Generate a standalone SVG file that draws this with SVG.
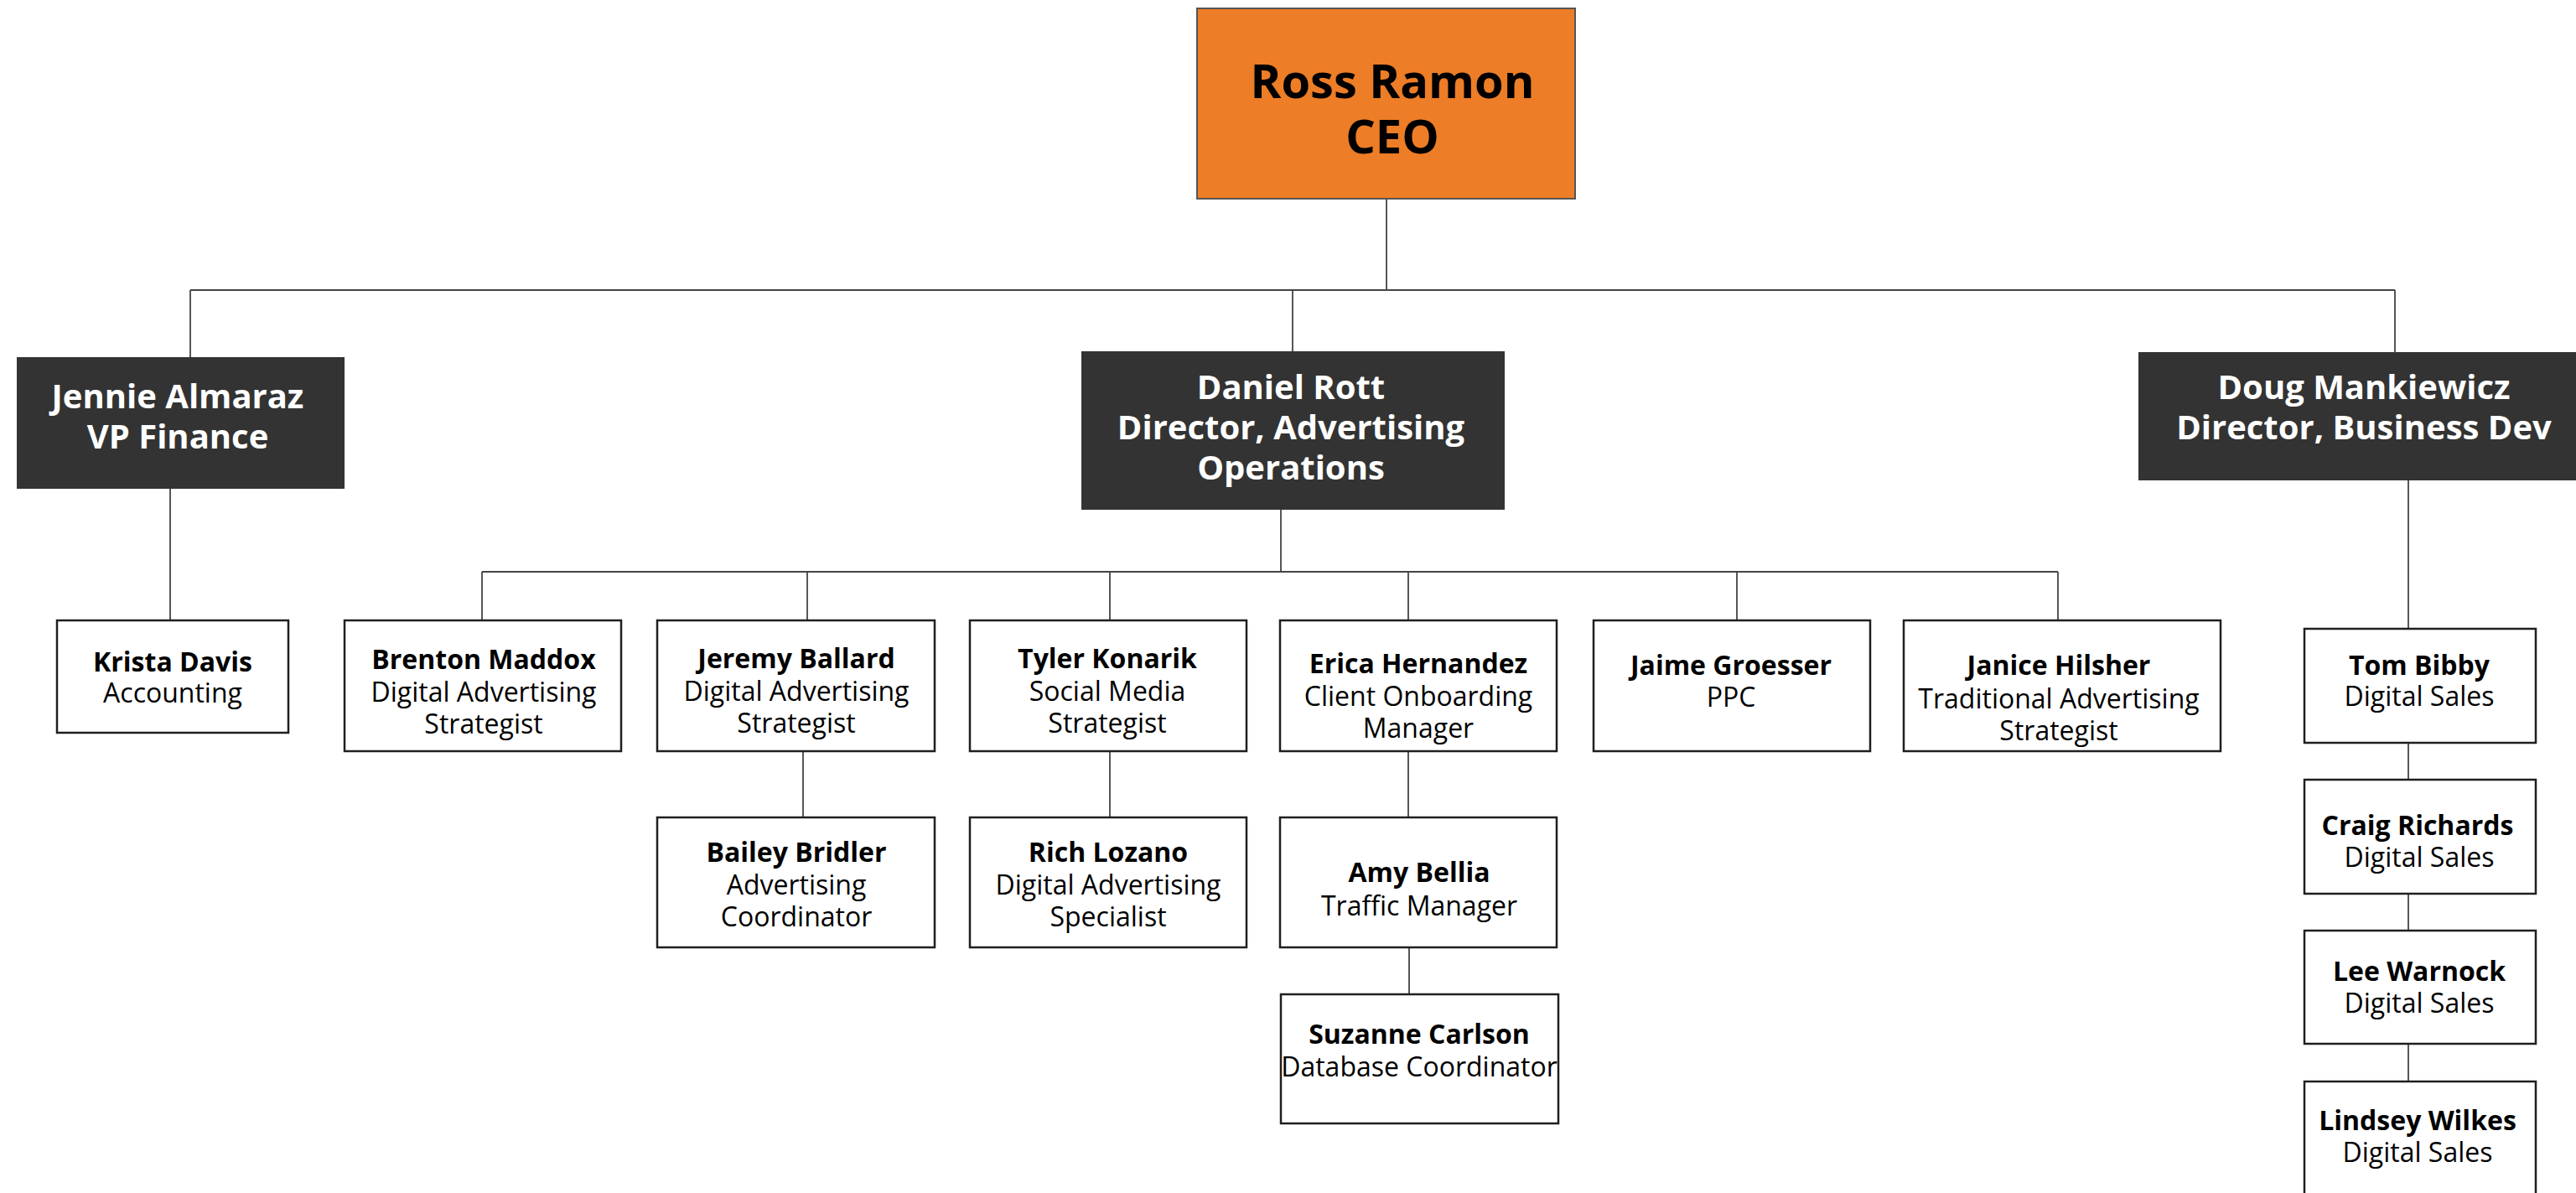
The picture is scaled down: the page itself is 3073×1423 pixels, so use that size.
<svg xmlns="http://www.w3.org/2000/svg" width="3073" height="1423" viewBox="0 0 3073 1423">
<style>
  .bg{fill:#ffffff}
  .ceo{fill:#ED7D26;stroke:#555555;stroke-width:2}
  .dark{fill:#333333}
  .box{fill:#ffffff;stroke:#1f1f1f;stroke-width:2.5}
  .conn line{stroke:#444444;stroke-width:1.8;fill:none}
  text{font-family:"Open Sans","Liberation Sans",sans-serif;text-anchor:middle}
  .ceot{font-size:56px;font-weight:bold;fill:#000000}
  .mt{font-size:40px;font-weight:bold;fill:#ffffff}
  .n{font-size:32px;font-weight:bold;fill:#000000}
  .r{font-size:32px;fill:#000000}
</style>
<rect class="bg" x="0" y="0" width="3073" height="1423"/>
<g id="connectors" class="conn">
  <line x1="1654" y1="237" x2="1654" y2="346"/>
  <line x1="227" y1="346" x2="2857" y2="346"/>
  <line x1="227" y1="346" x2="227" y2="426"/>
  <line x1="1542" y1="346" x2="1542" y2="419"/>
  <line x1="2857" y1="346" x2="2857" y2="420"/>
  <line x1="203" y1="583" x2="203" y2="740"/>
  <line x1="1528" y1="608" x2="1528" y2="682"/>
  <line x1="575" y1="682" x2="2455" y2="682"/>
  <line x1="575" y1="682" x2="575" y2="740"/>
  <line x1="963" y1="682" x2="963" y2="740"/>
  <line x1="1324" y1="682" x2="1324" y2="740"/>
  <line x1="1680" y1="682" x2="1680" y2="740"/>
  <line x1="2072" y1="682" x2="2072" y2="740"/>
  <line x1="2455" y1="682" x2="2455" y2="740"/>
  <line x1="958" y1="896" x2="958" y2="975"/>
  <line x1="1324" y1="896" x2="1324" y2="975"/>
  <line x1="1680" y1="896" x2="1680" y2="975"/>
  <line x1="1681" y1="1130" x2="1681" y2="1186"/>
  <line x1="2873" y1="573" x2="2873" y2="750"/>
  <line x1="2873" y1="886" x2="2873" y2="930"/>
  <line x1="2873" y1="1066" x2="2873" y2="1110"/>
  <line x1="2873" y1="1245" x2="2873" y2="1290"/>
</g>
<g id="ross-ramon">
  <rect class="ceo" x="1428" y="10" width="451" height="227"/>
  <text class="ceot" x="1661" y="117">Ross Ramon</text>
  <text class="ceot" x="1661" y="183">CEO</text>
</g>
<g id="jennie-almaraz">
  <rect class="dark" x="20" y="426" width="391" height="157"/>
  <text class="mt" x="212" y="487">Jennie Almaraz</text>
  <text class="mt" x="212" y="535">VP Finance</text>
</g>
<g id="daniel-rott">
  <rect class="dark" x="1290" y="419" width="505" height="189"/>
  <text class="mt" x="1540" y="476">Daniel Rott</text>
  <text class="mt" x="1540" y="524">Director, Advertising</text>
  <text class="mt" x="1540" y="572">Operations</text>
</g>
<g id="doug-mankiewicz">
  <rect class="dark" x="2551" y="420" width="540" height="153"/>
  <text class="mt" x="2820" y="476">Doug Mankiewicz</text>
  <text class="mt" x="2820" y="524">Director, Business Dev</text>
</g>
<g id="krista-davis">
  <rect class="box" x="68" y="740" width="276" height="134"/>
  <text class="n" x="206" y="801">Krista Davis</text>
  <text class="r" x="206" y="838">Accounting</text>
</g>
<g id="brenton-maddox">
  <rect class="box" x="411" y="740" width="330" height="156"/>
  <text class="n" x="577" y="798">Brenton Maddox</text>
  <text class="r" x="577" y="837">Digital Advertising</text>
  <text class="r" x="577" y="875">Strategist</text>
</g>
<g id="jeremy-ballard">
  <rect class="box" x="784" y="740" width="331" height="156"/>
  <text class="n" x="950" y="797">Jeremy Ballard</text>
  <text class="r" x="950" y="836">Digital Advertising</text>
  <text class="r" x="950" y="874">Strategist</text>
</g>
<g id="tyler-konarik">
  <rect class="box" x="1157" y="740" width="330" height="156"/>
  <text class="n" x="1321" y="797">Tyler Konarik</text>
  <text class="r" x="1321" y="836">Social Media</text>
  <text class="r" x="1321" y="874">Strategist</text>
</g>
<g id="erica-hernandez">
  <rect class="box" x="1527" y="740" width="330" height="156"/>
  <text class="n" x="1692" y="803">Erica Hernandez</text>
  <text class="r" x="1692" y="842">Client Onboarding</text>
  <text class="r" x="1692" y="880">Manager</text>
</g>
<g id="jaime-groesser">
  <rect class="box" x="1901" y="740" width="330" height="156"/>
  <text class="n" x="2065" y="805">Jaime Groesser</text>
  <text class="r" x="2065" y="843">PPC</text>
</g>
<g id="janice-hilsher">
  <rect class="box" x="2271" y="740" width="378" height="156"/>
  <text class="n" x="2456" y="805">Janice Hilsher</text>
  <text class="r" x="2456" y="845">Traditional Advertising</text>
  <text class="r" x="2456" y="883">Strategist</text>
</g>
<g id="bailey-bridler">
  <rect class="box" x="784" y="975" width="331" height="155"/>
  <text class="n" x="950" y="1028">Bailey Bridler</text>
  <text class="r" x="950" y="1067">Advertising</text>
  <text class="r" x="950" y="1105">Coordinator</text>
</g>
<g id="rich-lozano">
  <rect class="box" x="1157" y="975" width="330" height="155"/>
  <text class="n" x="1322" y="1028">Rich Lozano</text>
  <text class="r" x="1322" y="1067">Digital Advertising</text>
  <text class="r" x="1322" y="1105">Specialist</text>
</g>
<g id="amy-bellia">
  <rect class="box" x="1527" y="975" width="330" height="155"/>
  <text class="n" x="1693" y="1052">Amy Bellia</text>
  <text class="r" x="1693" y="1092">Traffic Manager</text>
</g>
<g id="suzanne-carlson">
  <rect class="box" x="1528" y="1186" width="331" height="154"/>
  <text class="n" x="1693" y="1245">Suzanne Carlson</text>
  <text class="r" x="1693" y="1284">Database Coordinator</text>
</g>
<g id="tom-bibby">
  <rect class="box" x="2749" y="750" width="276" height="136"/>
  <text class="n" x="2886" y="805">Tom Bibby</text>
  <text class="r" x="2886" y="842">Digital Sales</text>
</g>
<g id="craig-richards">
  <rect class="box" x="2749" y="930" width="276" height="136"/>
  <text class="n" x="2884" y="996">Craig Richards</text>
  <text class="r" x="2886" y="1034">Digital Sales</text>
</g>
<g id="lee-warnock">
  <rect class="box" x="2749" y="1110" width="276" height="135"/>
  <text class="n" x="2886" y="1170">Lee Warnock</text>
  <text class="r" x="2886" y="1208">Digital Sales</text>
</g>
<g id="lindsey-wilkes">
  <rect class="box" x="2749" y="1290" width="276" height="136"/>
  <text class="n" x="2884" y="1348">Lindsey Wilkes</text>
  <text class="r" x="2884" y="1386">Digital Sales</text>
</g>
</svg>
